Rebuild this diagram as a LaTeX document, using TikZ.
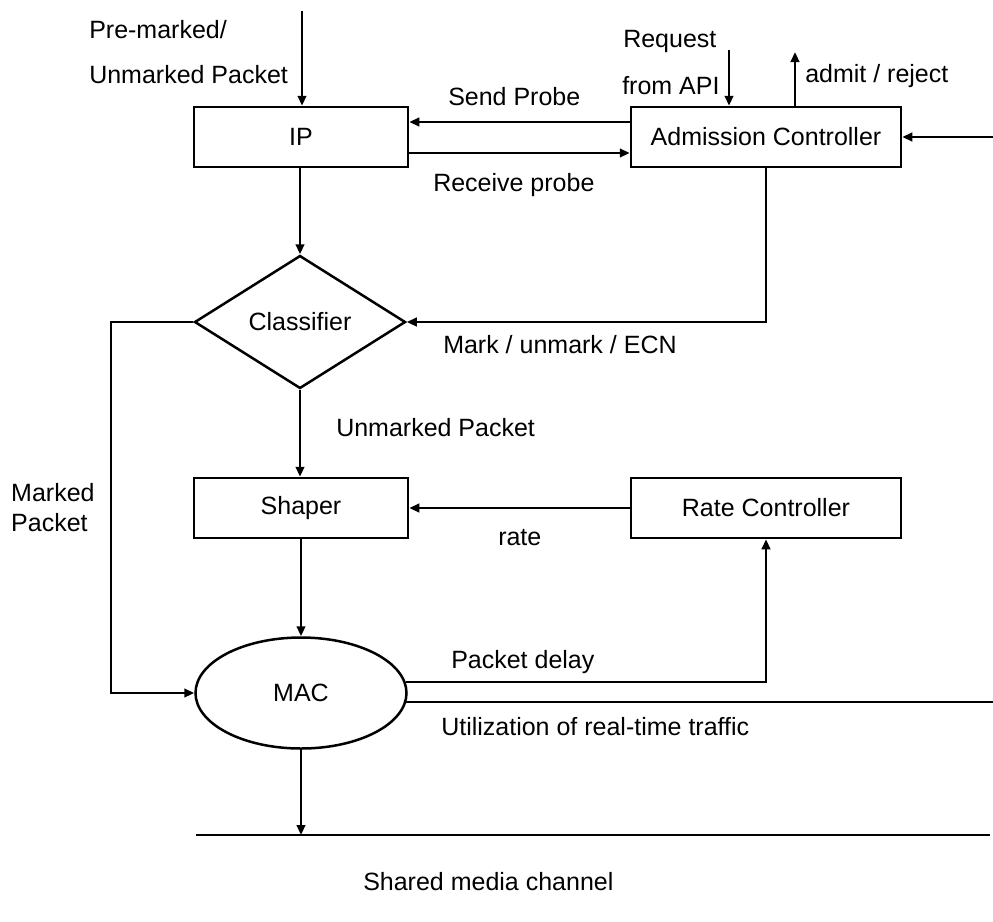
\documentclass[tikz,border=0pt]{standalone}
\usepackage{fontspec}
\setmainfont{Liberation Sans}
\usetikzlibrary{arrows.meta,positioning,calc,shapes.geometric}

\begin{document}
\begin{tikzpicture}[x=0.4pt,y=-0.4pt,font=\fontsize{10}{12}\selectfont,
  line width=1pt,>={Triangle[length=4pt,width=3.4pt]},
  blk/.style={draw,rectangle,minimum height=24pt},
  lbl/.style={anchor=west,inner sep=0pt}]
  \useasboundingbox (0,0) rectangle (993,921);
  % blocks
  \node[blk,minimum width=85.6pt] (ip) at (301,137) {IP};
  \node[blk,minimum width=108pt]  (ac) at (766,137) {Admission Controller};
  \node[draw,diamond,minimum width=84.4pt,minimum height=53.2pt,inner sep=0pt] (cls) at (300,322) {Classifier};
  \node[blk,minimum width=85.6pt] (sh) at (301,508) {Shaper};
  \node[blk,minimum width=108pt]  (rc) at (766,508) {Rate Controller};
  \node[draw,ellipse,minimum width=84.4pt,minimum height=44.4pt,inner sep=0pt] (mac) at (301,693) {MAC};
  % free ends
  \coordinate (in1) at (302,11);  \coordinate (req) at (729,50);
  \coordinate (adm) at (795,52);  \coordinate (rin) at (993,137);
  \coordinate (lft) at (111,0);   \coordinate (uout) at (993,702);
  \coordinate (chL) at (196,835); \coordinate (chR) at (990,835);
  % connectors
  \draw[->] (in1) -- (in1 |- ip.north);
  \draw[->] ([yshift=6pt]ac.west) -- ([yshift=6pt]ac.west -| ip.east);
  \draw[->] ([yshift=-6.4pt]ip.east) -- ([yshift=-6.4pt]ip.east -| ac.west);
  \draw[->] (req) -- (req |- ac.north);
  \draw[->] (adm |- ac.north) -- (adm);
  \draw[->] (rin) -- (ac.east);
  \draw[->] (cls.north |- ip.south) -- (cls.north);
  \draw[->] (ac.south) -- (ac.south |- cls.east) -- (cls.east);
  \draw[->] (cls.west) -- (cls.west -| lft) |- (mac.west);
  \draw[->] (cls.south) -- (cls.south |- sh.north);
  \draw[->] (rc.west) -- (sh.east);
  \draw[->] (sh.south) -- (mac.north);
  \draw[->] (mac.6) -- (mac.6 -| rc.south) -- (rc.south);
  \draw (mac.-5) -- (mac.-5 -| uout);
  \draw (chL) -- (chR);
  \draw[->] (mac.south) -- (mac.south |- chL);
  % labels
  \node[lbl] (t1) at (88,30)  {Pre-marked/};
  \node[lbl] (t2) at (88,75)  {Unmarked Packet};
  \node[lbl] (t3) at (447,97) {Send Probe};
  \node[lbl] (t4) at (432,185) {Receive probe};
  \node[lbl] (t5) at (622,41) {Request};
  \node[lbl] (t6) at (621,86) {from API};
  \node[lbl] (t7) at (804,76) {admit / reject};
  \node[lbl] (t8) at (442,345) {Mark / unmark / ECN};
  \node[lbl] (t9) at (335,428) {Unmarked Packet};
  \node[lbl] (t10) at (10,493) {Marked};
  \node[lbl] (t11) at (10,523) {Packet};
  \node[lbl] (t12) at (497,538) {rate};
  \node[lbl] (t13) at (450,662) {Packet delay};
  \node[lbl] (t14) at (440,727) {Utilization of real-time traffic};
  \node[lbl] (t15) at (362,882) {Shared media channel};
\end{tikzpicture}
\end{document}
